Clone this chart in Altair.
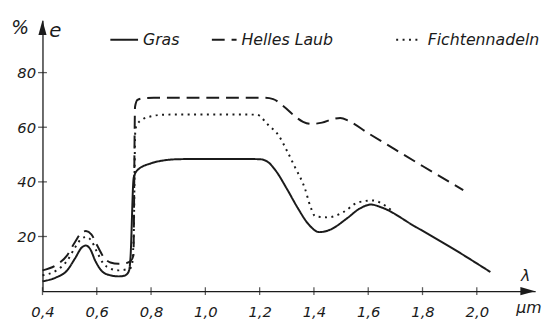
import altair as alt
import pandas as pd

# ---------------- data ----------------
series_names = ["Gras", "Helles Laub", "Fichtennadeln"]

gras_wl = [0.40, 0.45, 0.49, 0.52, 0.545, 0.56, 0.575, 0.595, 0.62, 0.65, 0.68, 0.70,
           0.712, 0.72, 0.724, 0.736, 0.75, 0.80, 0.85, 0.90, 1.00, 1.10, 1.20, 1.23,
           1.26, 1.30, 1.34, 1.38, 1.42, 1.46, 1.52, 1.57, 1.61, 1.65, 1.77, 1.90, 2.05]
gras_e = [3.6, 5.0, 7.5, 12.0, 16.0, 16.7, 15.5, 11.0, 7.2, 5.8, 5.4, 5.6,
          6.3, 8.0, 12.0, 41.5, 44.3, 46.8, 47.9, 48.3, 48.4, 48.4, 48.3, 47.3,
          44.0, 37.5, 30.5, 24.5, 21.6, 22.5, 26.5, 30.3, 31.7, 30.6, 23.8, 16.3, 7.0]

laub_wl = [0.40, 0.45, 0.49, 0.52, 0.545, 0.56, 0.58, 0.60, 0.625, 0.65, 0.68, 0.71,
           0.725, 0.735, 0.741, 0.75, 0.77, 0.81, 1.00, 1.22, 1.25, 1.29, 1.33, 1.36,
           1.39, 1.43, 1.47, 1.497, 1.53, 1.60, 1.70, 1.80, 1.95]
laub_e = [7.6, 9.5, 13.0, 18.0, 21.5, 22.0, 20.8, 17.0, 12.5, 10.5, 10.0, 10.3,
          11.0, 13.0, 67.5, 70.0, 70.6, 70.8, 70.8, 70.8, 70.3, 67.5, 64.0, 62.0,
          61.2, 61.7, 63.0, 63.4, 62.2, 57.8, 51.8, 45.8, 37.0]

ficht_wl = [0.40, 0.45, 0.49, 0.52, 0.545, 0.56, 0.58, 0.60, 0.625, 0.65, 0.68, 0.71,
            0.728, 0.736, 0.742, 0.75, 0.77, 0.80, 0.85, 1.00, 1.19, 1.23, 1.27, 1.30,
            1.33, 1.366, 1.387, 1.405, 1.45, 1.51, 1.56, 1.616, 1.667, 1.69]
ficht_e = [5.8, 7.5, 11.0, 16.0, 19.3, 19.8, 18.5, 14.5, 10.0, 8.3, 7.6, 8.0,
           8.8, 20.0, 59.0, 61.2, 63.0, 64.0, 64.6, 64.7, 64.6, 61.0, 57.0, 51.5,
           45.4, 37.8, 31.0, 27.4, 27.0, 29.0, 32.4, 33.2, 31.0, 29.2]

x_tick_values = [0.4, 0.6, 0.8, 1.0, 1.2, 1.4, 1.6, 1.8, 2.0]
y_tick_values = [20, 40, 60, 80]

rows = []
for name, wl, ev in [("Gras", gras_wl, gras_e),
                     ("Helles Laub", laub_wl, laub_e),
                     ("Fichtennadeln", ficht_wl, ficht_e)]:
    for w, v in zip(wl, ev):
        rows.append({"Serie": name, "lambda": w, "e": v})
df = pd.DataFrame(rows)
xt = pd.DataFrame({"t": x_tick_values})
yt = pd.DataFrame({"t": y_tick_values})
one = pd.DataFrame({"k": [0]})

# ---------------- style ----------------
INK = "#1b1b1b"
FONT = "DejaVu Sans"
X_DOMAIN = [0.4, 2.215]
Y_DOMAIN = [0, 99.2]
x_scale = alt.Scale(domain=X_DOMAIN, nice=False, zero=False)
y_scale = alt.Scale(domain=Y_DOMAIN, nice=False, zero=False)
dash_scale = alt.Scale(domain=series_names, range=[[1, 0], [13, 7], [2, 4.5]])

x_axis = alt.Axis(values=x_tick_values, labelExpr="replace(format(datum.value, '.1f'), '.', ',')",
                  ticks=False, tickSize=0, labelPadding=14, grid=False, title=None,
                  domainColor=INK, domainWidth=1.3, labelFlush=False, labelOverlap=False,
                  labelFont=FONT, labelFontStyle="italic", labelFontSize=15, labelColor=INK)
y_axis = alt.Axis(values=y_tick_values, ticks=False, tickSize=0, labelPadding=7, grid=False,
                  title=None, domainColor=INK, domainWidth=1.3, labelFlush=False,
                  labelFont=FONT, labelFontStyle="italic", labelFontSize=15, labelColor=INK)

lines = alt.Chart(df).mark_line(interpolate="monotone", strokeWidth=2, color=INK).encode(
    x=alt.X("lambda:Q", scale=x_scale, axis=x_axis),
    y=alt.Y("e:Q", scale=y_scale, axis=y_axis),
    strokeDash=alt.StrokeDash("Serie:N", scale=dash_scale, legend=None),
    order=alt.Order("lambda:Q"),
)

x_ticks = alt.Chart(xt).mark_tick(orient="vertical", size=8, thickness=1.3, color=INK).encode(
    x=alt.X("t:Q", scale=x_scale), y=alt.datum(0))
y_ticks = alt.Chart(yt).mark_tick(orient="horizontal", size=9, thickness=1.3, color=INK).encode(
    y=alt.Y("t:Q", scale=y_scale), x=alt.datum(X_DOMAIN[0]))

arrow_x = alt.Chart(one).mark_point(shape="M0,0L-2,-0.55L-2,0.55Z", size=225, filled=True,
                                    opacity=1, color=INK, strokeWidth=0).encode(
    x=alt.datum(X_DOMAIN[1]), y=alt.datum(0))
arrow_y = alt.Chart(one).mark_point(shape="M0,0L-0.55,2L0.55,2Z", size=225, filled=True,
                                    opacity=1, color=INK, strokeWidth=0).encode(
    x=alt.datum(X_DOMAIN[0]), y=alt.datum(Y_DOMAIN[1]))


def label(txt, x, y, size, align="center", baseline="alphabetic"):
    return alt.Chart(one).mark_text(text=txt, font=FONT, fontStyle="italic", fontSize=size,
                                    color=INK, align=align, baseline=baseline).encode(
        x=alt.datum(x), y=alt.datum(y))


t_pct = label("%", 0.318, 94.2, 19)
t_e = label("e", 0.447, 93.1, 20)
t_lam = label("λ", 2.18, 3.6, 16)
t_um = label("µm", 2.192, -7.9, 16)

# legend row (line sample + name), using the same strokeDash scale
LEG_Y = 92.0
legend_layers = []
for name, x0, x1, xt0 in [("Gras", 0.650, 0.752, 0.770),
                          ("Helles Laub", 1.024, 1.115, 1.133),
                          ("Fichtennadeln", 1.703, 1.797, 1.819)]:
    legend_layers.append(
        alt.Chart(one).mark_rule(strokeWidth=2, color=INK).encode(
            x=alt.datum(x0), x2=alt.datum(x1), y=alt.datum(LEG_Y),
            strokeDash=alt.datum(name)))
    legend_layers.append(label(name, xt0, LEG_Y, 16, align="left", baseline="middle"))

chart = alt.layer(lines, x_ticks, y_ticks, arrow_x, arrow_y, t_pct, t_e, t_lam, t_um,
                  *legend_layers).properties(
    width=500, height=275,
    padding={"left": 35, "top": 10, "right": 11, "bottom": 30},
    autosize=alt.AutoSizeParams(type="none"),
    background="white",
).configure_view(stroke=None).configure_legend(disable=True)

chart.save("out.html", embed_options={"renderer": "svg", "actions": False})
